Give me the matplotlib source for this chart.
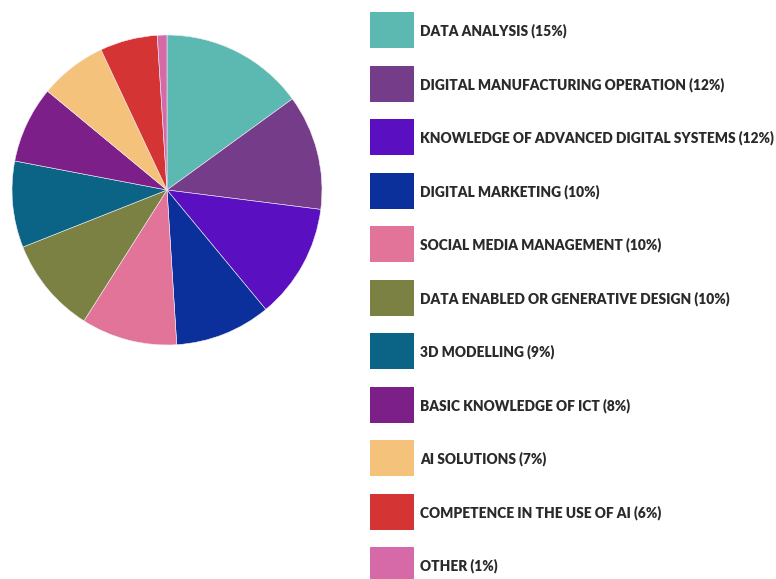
import matplotlib.pyplot as plt
from matplotlib.patches import Rectangle

# Skill shares (%)
labels = [
    "DATA ANALYSIS",
    "DIGITAL MANUFACTURING OPERATION",
    "KNOWLEDGE OF ADVANCED DIGITAL SYSTEMS",
    "DIGITAL MARKETING",
    "SOCIAL MEDIA MANAGEMENT",
    "DATA ENABLED OR GENERATIVE DESIGN",
    "3D MODELLING",
    "BASIC KNOWLEDGE OF ICT",
    "AI SOLUTIONS",
    "COMPETENCE IN THE USE OF AI",
    "OTHER",
]
shares = [15, 12, 12, 10, 10, 10, 9, 8, 7, 6, 1]
colors = [
    "#5bb9b1", "#743c89", "#5a0fc1", "#0b309b", "#e27399", "#7b8142",
    "#0b6486", "#7c1f89", "#f4c27a", "#d53434", "#d66aa8",
]

W, H = 776, 579
fig = plt.figure(figsize=(W / 100, H / 100), dpi=100)
fig.patch.set_facecolor("white")

# Pie on the left
cx, cy, r = 167, 190, 155
ax = fig.add_axes([(cx - r) / W, (H - cy - r) / H, 2 * r / W, 2 * r / H])
ax.pie(shares, colors=colors, startangle=90, counterclock=False,
       wedgeprops=dict(edgecolor="#f4eef6", linewidth=0.4))
ax.set_xlim(-1, 1)
ax.set_ylim(-1, 1)
ax.set_aspect("equal")
ax.axis("off")

# Legend drawn by hand on the right
leg = fig.add_axes([0, 0, 1, 1])
leg.set_xlim(0, W)
leg.set_ylim(H, 0)
leg.axis("off")

y0, step = 30, 53.5
for i, (lab, val, col) in enumerate(zip(labels, shares, colors)):
    y = y0 + i * step
    leg.add_patch(Rectangle((370, y - 18), 44, 36, facecolor=col, edgecolor="none"))
    leg.text(420, y + 1, f"{lab} ({val}%)", fontsize=9.9, fontweight="heavy",
             family="Lato", color="#2a2a2a", va="center", ha="left")

fig.savefig("out.png", dpi=100, facecolor="white")
